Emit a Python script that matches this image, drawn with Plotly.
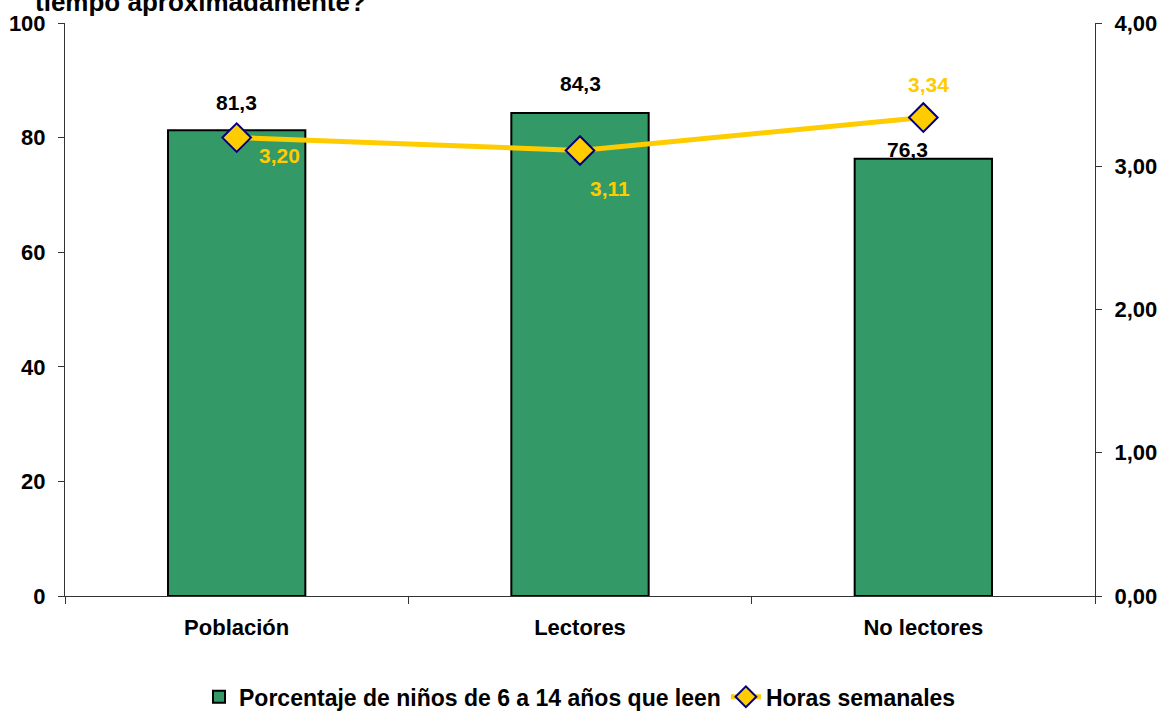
import plotly.graph_objects as go

categorias = ["Población", "Lectores", "No lectores"]
porcentaje_leen = [81.3, 84.3, 76.3]
horas_semanales = [3.20, 3.11, 3.34]
etiquetas_porcentaje = ["81,3", "84,3", "76,3"]
etiquetas_horas = ["3,20", "3,11", "3,34"]
ticks_izq = [0, 20, 40, 60, 80, 100]
ticks_der = [0, 1, 2, 3, 4]

fuente = "Liberation Sans, Arial, sans-serif"
amarillo = "#FFCC00"
gris_eje = "#333333"

fig = go.Figure()

fig.add_trace(go.Bar(
    x=categorias, y=porcentaje_leen, name="<b>Porcentaje de niños de 6 a 14 años que leen</b>",
    marker=dict(color="#339966", line=dict(color="black", width=2)),
    width=0.4, yaxis="y",
))
fig.add_trace(go.Scatter(
    x=categorias, y=horas_semanales, name="<b>Horas semanales</b>", mode="lines+markers",
    line=dict(color=amarillo, width=5),
    marker=dict(symbol="diamond", size=22, color=amarillo, line=dict(color="#000080", width=2)),
    yaxis="y2",
))

# etiquetas de las barras
desp_barras = [(0, 28), (0, 29), (-16, 9)]
for cat, val, txt, (dx, dy) in zip(categorias, porcentaje_leen, etiquetas_porcentaje, desp_barras):
    fig.add_annotation(x=cat, y=val, yref="y", text=f"<b>{txt}</b>", showarrow=False,
                       xshift=dx, yshift=dy, font=dict(size=21, color="black", family=fuente))

# etiquetas de la linea
desp_linea = [(43, -18), (30, -38), (5, 33)]
for cat, val, txt, (dx, dy) in zip(categorias, horas_semanales, etiquetas_horas, desp_linea):
    fig.add_annotation(x=cat, y=val, yref="y2", text=f"<b>{txt}</b>", showarrow=False,
                       xshift=dx, yshift=dy, font=dict(size=21, color=amarillo, family=fuente))

# la primera linea del titulo queda fuera de la imagen original
fig.add_annotation(text="<b>tiempo aproximadamente?</b>", xref="paper", yref="paper",
                   x=-0.031, y=1.036, xanchor="left", yanchor="middle", showarrow=False,
                   font=dict(size=26, color="black", family=fuente))

eje_y = dict(showline=True, linecolor=gris_eje, linewidth=1, ticks="outside", ticklen=6,
             tickcolor=gris_eje, showgrid=False, zeroline=False, tickfont=dict(size=22),
             automargin=False, ticklabelstandoff=8)
# ejes auxiliares solo para que las marcas crucen el eje
eje_cruce = dict(showline=False, ticks="inside", ticklen=4, tickcolor=gris_eje,
                 showticklabels=False, showgrid=False, zeroline=False, automargin=False)

fig.update_layout(
    width=1163, height=711,
    margin=dict(l=65, r=68, t=23, b=115, autoexpand=False),
    paper_bgcolor="white", plot_bgcolor="white",
    font=dict(family=fuente, size=18, color="black"),
    showlegend=True,
    legend=dict(orientation="h", x=0.5, xanchor="center", y=-0.176, yanchor="middle",
                font=dict(size=23, family=fuente), traceorder="normal"),
    xaxis=dict(type="category", showline=True, linecolor=gris_eje, linewidth=1,
               ticks="outside", tickson="boundaries", ticklen=7, tickcolor=gris_eje,
               tickfont=dict(size=22), showgrid=False, automargin=False, ticklabelstandoff=12,
               ticktext=[f"<b>{c}</b>" for c in categorias], tickvals=categorias),
    xaxis2=dict(eje_cruce, overlaying="x", range=[-0.5, 2.5], tickvals=[-0.5, 0.5, 1.5, 2.5],
                side="bottom"),
    yaxis=dict(eje_y, range=[0, 100], tickvals=ticks_izq,
               ticktext=[f"<b>{v}</b>" for v in ticks_izq]),
    yaxis2=dict(eje_y, range=[0, 4], overlaying="y", side="right", tickvals=ticks_der,
                ticktext=[f"<b>{v:.2f}</b>".replace(".", ",") for v in ticks_der]),
    yaxis3=dict(eje_cruce, range=[0, 100], overlaying="y", side="left", tickvals=ticks_izq),
    yaxis4=dict(eje_cruce, range=[0, 4], overlaying="y", side="right", tickvals=ticks_der),
)

# quitar el margen del body para que la figura ocupe justo la ventana
fig.write_html("out.html", config={"displayModeBar": False},
               post_script="document.body.style.margin='0';")
